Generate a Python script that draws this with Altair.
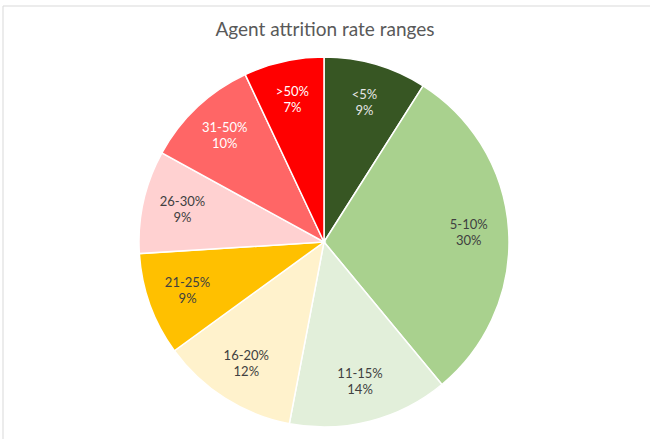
import altair as alt
import pandas as pd

title_text = "Agent attrition rate ranges"
ranges = ["<5%", "5-10%", "11-15%", "16-20%", "21-25%", "26-30%", "31-50%", ">50%"]
shares = [9, 30, 14, 12, 9, 9, 10, 7]
colors = ["#375623", "#A9D18E", "#E2EFDA", "#FFF2CC", "#FFC000", "#FFD1D1", "#FF6666", "#FF0000"]
label_colors = ["#E6E6E6", "#404040", "#404040", "#404040", "#404040", "#404040", "#FFFFFF", "#FFFFFF"]

df = pd.DataFrame({
    "range": ranges,
    "share": shares,
    "order": list(range(len(ranges))),
    "lc": label_colors,
})
df["label"] = df["range"] + "\n" + df["share"].astype(str) + "%"

CX, CY = 324, 192

base = alt.Chart(df).encode(
    theta=alt.Theta("share:Q", stack=True),
    order=alt.Order("order:Q"),
)

pie = base.mark_arc(radius=185, stroke="white", strokeWidth=1.5).encode(
    color=alt.Color("range:N", scale=alt.Scale(domain=ranges, range=colors), legend=None),
    x=alt.value(CX),
    y=alt.value(CY),
)

text = base.mark_text(radius=145, dy=-8, lineBreak="\n", fontSize=13, font="Lato", lineHeight=16).encode(
    text="label:N",
    color=alt.Color("lc:N", scale=None),
    x=alt.value(CX),
    y=alt.value(CY),
)

one = pd.DataFrame({"t": [title_text]})
title = alt.Chart(one).mark_text(fontSize=19, font="Lato", color="#595959", baseline="middle", align="center").encode(
    text="t:N", x=alt.value(325), y=alt.value(-20)
)
border_left = alt.Chart(one).mark_rule(color="#D9D9D9", strokeWidth=1).encode(
    x=alt.value(3), y=alt.value(-44), y2=alt.value(389)
)
border_top = alt.Chart(one).mark_rule(color="#D9D9D9", strokeWidth=1).encode(
    x=alt.value(3), x2=alt.value(650), y=alt.value(-44)
)

chart = alt.layer(border_left, border_top, pie, text, title).properties(
    width=650,
    height=389,
    padding={"top": 50, "left": 0, "right": 0, "bottom": 0},
    autosize="none",
).configure_view(stroke=None)

chart.save("out.html", embed_options={"renderer": "svg", "actions": False})
